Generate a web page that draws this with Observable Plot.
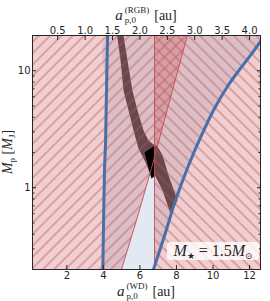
<!DOCTYPE html>
<html><head><meta charset="utf-8">
<script src="https://cdn.jsdelivr.net/npm/d3@7"></script>
<script src="https://cdn.jsdelivr.net/npm/@observablehq/plot@0.6"></script>
<style>
body{margin:0;background:#fff;}
#wrap{position:relative;width:270px;height:301px;overflow:hidden;}
.lab{position:absolute;font-family:"Liberation Serif","DejaVu Serif",serif;color:#262626;white-space:nowrap;line-height:1;}
.ss{display:inline-block;vertical-align:-3px;font-size:9px;line-height:10px;margin-left:2px;margin-right:1px;}
.ss span{display:block;}
.legend{position:absolute;left:167px;top:242px;width:92px;height:18px;background:rgba(255,255,255,0.78);border-radius:3px;
 font-family:"Liberation Serif","DejaVu Serif",serif;font-size:16px;color:#262626;text-align:center;line-height:18px;white-space:nowrap;}
.legend sub{font-size:9px;vertical-align:-3px;}
</style></head><body>
<svg width="0" height="0" style="position:absolute"><defs>
<pattern id="hatchF" patternUnits="userSpaceOnUse" width="8" height="8" patternTransform="rotate(45)"><line x1="4" y1="-1" x2="4" y2="9" stroke="#c44e52" stroke-width="0.75"/></pattern>
<pattern id="hatchB" patternUnits="userSpaceOnUse" width="8" height="8" patternTransform="rotate(-45)"><line x1="4" y1="-1" x2="4" y2="9" stroke="#c44e52" stroke-width="0.75"/></pattern>
</defs></svg>
<div id="wrap"></div>
<script>
// axes
const xDomain = [0.12, 12.6];          // a_p,0 (WD) [au]
const yDomain = [0.2, 20];             // M_p [M_J]
const rgbToWd = 3;                     // a(WD) / a(RGB)
const rgbTicks = [0.5, 1.0, 1.5, 2.0, 2.5, 3.0, 3.5, 4.0];
const wdTicks = [2, 4, 6, 8, 10, 12];
const yMajor = [1, 10];
const yMinor = [0.2, 0.3, 0.4, 0.5, 0.6, 0.7, 0.8, 0.9, 2, 3, 4, 5, 6, 7, 8, 9, 20];

// left blue curve
const blueL_a = [3.97, 4.01, 4.06, 4.12, 4.17, 4.23];
const blueL_m = [0.2, 0.52, 1.4, 2.5, 6.8, 20];
// right blue curve
const blueR_a = [6.74, 7.35, 7.95, 8.66, 9.37, 10.08, 10.79, 11.50, 12.05, 12.6];
const blueR_m = [0.2, 0.39, 0.78, 1.55, 2.8, 4.75, 7.33, 10.45, 13.5, 17.8];
// boundary of "/" hatched region
const d1_a = [4.99, 5.81, 6.63, 7.78, 8.60];
const d1_m = [0.2, 0.525, 1.46, 6.78, 20];
// boundary of "\" hatched region
const vLine_a = 6.8;
// dark band
const band_a = [4.75, 4.94, 5.10, 5.38, 5.65, 5.92, 6.31, 6.63, 6.80, 7.24, 7.67, 8.06, 7.57, 7.24, 6.96, 6.74, 6.47, 6.20, 5.87, 5.59, 5.32, 5.10];
const band_m = [20, 12.2, 6.78, 4.57, 3.08, 2.16, 1.64, 1.22, 1.30, 0.947, 0.602, 0.778, 1.27, 1.89, 2.25, 2.34, 2.53, 3.08, 4.57, 6.78, 12.2, 20];
// black core
const core_a = [6.25, 6.74, 6.8, 6.8, 6.63];
const core_m = [2.0, 2.25, 2.25, 1.25, 1.2];

const pts = (A, M) => A.map((a, i) => ({a, m: M[i]}));
const blueL = pts(blueL_a, blueL_m);
const blueR = pts(blueR_a, blueR_m);
const d1 = pts(d1_a, d1_m);
const band = pts(band_a, band_m);
const core = pts(core_a, core_m);
const blueRegion = [...blueL, {a: xDomain[1], m: yDomain[1]}, ...blueR.slice().reverse()];
const fwdRegion = [{a: xDomain[0], m: yDomain[0]}, {a: xDomain[0], m: yDomain[1]}, ...d1.slice().reverse()];
const backRegion = [{a: vLine_a, m: yDomain[0]}, {a: vLine_a, m: yDomain[1]}, {a: xDomain[1], m: yDomain[1]}, {a: xDomain[1], m: yDomain[0]}];
const vLine = [{a: vLine_a, m: yDomain[0]}, {a: vLine_a, m: yDomain[1]}];

const red = "#c44e52", blue = "#4a6ea8";
const plot = Plot.plot({
  width: 270, height: 301,
  marginTop: 35, marginBottom: 32, marginLeft: 32, marginRight: 10,
  x: {domain: xDomain, label: null},
  y: {type: "log", domain: yDomain, label: null},
  style: {fontFamily: "DejaVu Sans, sans-serif", fontSize: "10px", color: "#262626", background: "transparent"},
  marks: [
    Plot.line(blueRegion, {x: "a", y: "m", curve: "catmull-rom", fill: "#e3e9f3", stroke: "none", clip: true}),
    Plot.line(fwdRegion, {x: "a", y: "m", fill: red, fillOpacity: 0.27, stroke: "none"}),
    Plot.line(backRegion, {x: "a", y: "m", fill: red, fillOpacity: 0.27, stroke: "none"}),
    Plot.line(band, {x: "a", y: "m", fill: "#4a2c2e", fillOpacity: 0.8, stroke: "none"}),
    Plot.line(fwdRegion, {x: "a", y: "m", fill: "url(#hatchF)", stroke: "none"}),
    Plot.line(backRegion, {x: "a", y: "m", fill: "url(#hatchB)", stroke: "none"}),
    Plot.line(core, {x: "a", y: "m", fill: "#000", stroke: "none"}),
    Plot.line(d1, {x: "a", y: "m", stroke: red, strokeWidth: 0.9}),
    Plot.line(vLine, {x: "a", y: "m", stroke: red, strokeWidth: 0.9}),
    Plot.line(blueL, {x: "a", y: "m", curve: "catmull-rom", stroke: blue, strokeWidth: 3, clip: true}),
    Plot.line(blueR, {x: "a", y: "m", curve: "catmull-rom", stroke: blue, strokeWidth: 3, clip: true}),
    Plot.frame({stroke: "#262626"}),
    Plot.axisX(wdTicks, {anchor: "bottom", tickSize: -4, tickPadding: 6, tickFormat: d => d, label: null}),
    Plot.axisX(rgbTicks.map(d => d * rgbToWd), {anchor: "top", tickSize: -4, tickPadding: 6, tickFormat: d => (d / rgbToWd).toFixed(1), label: null}),
    Plot.axisY(yMajor, {anchor: "left", tickSize: -4, tickPadding: 6, tickFormat: d => d, label: null}),
    Plot.axisY(yMinor, {anchor: "left", tickSize: -2.5, tickFormat: () => "", label: null}),
    Plot.axisY(yMajor, {anchor: "right", tickSize: -4, tickFormat: () => "", label: null}),
    Plot.axisY(yMinor, {anchor: "right", tickSize: -2.5, tickFormat: () => "", label: null})
  ]
});
const wrap = document.getElementById("wrap");
wrap.appendChild(plot);

function addLab(html, style) {
  const d = document.createElement("div");
  d.className = "lab";
  d.innerHTML = html;
  d.setAttribute("style", style);
  wrap.appendChild(d);
}
addLab('<i style="font-size:15px">a</i><span class="ss"><span>(RGB)</span><span>p,0</span></span> <span style="font-size:14px">[au]</span>',
  "left:146px;top:5px;transform:translateX(-50%);");
addLab('<i style="font-size:15px">a</i><span class="ss"><span>(WD)</span><span>p,0</span></span> <span style="font-size:14px">[au]</span>',
  "left:146px;top:281px;transform:translateX(-50%);");
addLab('<i>M</i><sub style="font-size:9px">p</sub> [<i>M</i><sub style="font-size:9px">J</sub>]',
  "left:9px;top:152px;font-size:14px;transform:translate(-50%,-50%) rotate(-90deg);");
const lg = document.createElement("div");
lg.className = "legend";
lg.innerHTML = '<i>M</i><sub>★</sub> = 1.5<i>M</i><sub>⊙</sub>';
wrap.appendChild(lg);
</script>
</body></html>
